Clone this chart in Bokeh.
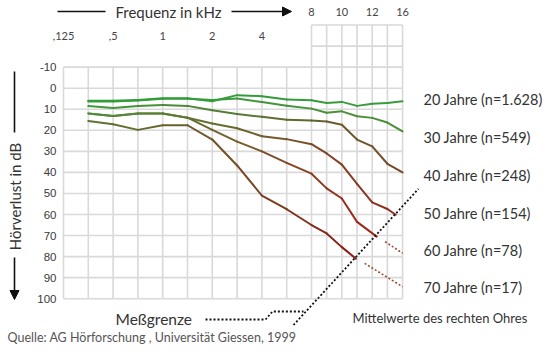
import math
import numpy as np
from bokeh.plotting import figure
from bokeh.models import Range1d, Arrow, NormalHead
from bokeh.core.properties import value
from bokeh.embed import file_html
from bokeh.resources import INLINE

# ---------------- data ----------------
grid_freqs = [0.125, 0.25, 0.5, 0.75, 1, 1.5, 2, 3, 4, 6, 8, 9, 10, 11, 12, 14, 16]
freq_labels_low = [",125", ",5", "1", "2", "4"]
freq_values_low = [0.125, 0.5, 1, 2, 4]
freq_labels_high = ["8", "10", "12", "16"]
freq_values_high = [8, 10, 12, 16]
db_ticks = [-10, 0, 10, 20, 30, 40, 50, 60, 70, 80, 90, 100]

freqs = [0.25, 0.5, 0.75, 1, 1.5, 2, 3, 4, 6, 8, 9, 10, 11, 12, 14, 16]
db_20 = [6.0, 6.0, 5.6, 4.8, 4.8, 6.2, 3.3, 3.8, 5.4, 5.7, 7.0, 6.5, 8.4, 7.4, 7.0, 6.2]
db_30 = [6.3, 6.3, 5.9, 5.0, 5.0, 5.6, 4.9, 6.6, 8.3, 9.7, 11.7, 11.0, 13.3, 14.1, 16.3, 20.5]
db_40 = [8.5, 9.4, 8.5, 8.0, 8.4, 10.5, 12.3, 13.6, 15.0, 15.4, 15.8, 17.4, 24.4, 27.6, 35.9, 40.0]
f_50 = [0.25, 0.5, 0.75, 1, 1.5, 2, 3, 4, 6, 8, 9, 10, 11, 12, 14, 15.1]
db_50 = [12.0, 13.2, 12.0, 12.0, 14.0, 16.8, 19.0, 22.8, 24.2, 26.6, 31.0, 36.3, 45.5, 54.2, 57.4, 60.1]
f_60 = [0.25, 0.5, 0.75, 1, 1.5, 2, 3, 4, 6, 8, 9, 10, 11, 12.6]
db_60 = [12.0, 13.2, 12.0, 12.0, 14.0, 19.8, 25.4, 30.0, 35.5, 40.6, 47.6, 52.4, 63.5, 70.5]
f_70 = [0.25, 0.5, 0.75, 1, 1.5, 2, 3, 4, 6, 8, 9, 10, 10.93]
db_70 = [15.6, 17.1, 19.8, 17.6, 17.6, 24.4, 36.7, 51.0, 57.5, 65.0, 69.0, 75.5, 81.0]
f_60_ext = [13.7, 16]
db_60_ext = [72.9, 78.4]
f_70_ext = [11.5, 16]
db_70_ext = [83.2, 94.3]
series_labels = ["20 Jahre (n=1.628)", "30 Jahre (n=549)", "40 Jahre (n=248)",
                 "50 Jahre (n=154)", "60 Jahre (n=78)", "70 Jahre (n=17)"]

# ---------------- scales / layout ----------------
# audiogram frequency axis: equal steps up to 8 kHz, narrower steps above
grid_pos = list(range(11)) + [10 + 0.612 * k for k in range(1, 7)]
X_END = grid_pos[-1]


def fx(f):
    return np.interp(np.asarray(f, dtype=float), grid_freqs, grid_pos).tolist()


X0, XS = 63.0, 24.8      # canvas px of x=0, px per unit
Y0, YS = 87.7, 2.105     # canvas px of 0 dB, px per dB


def sx(px):
    return (px - X0) / XS


def sy(py):
    return (py - Y0) / YS


W, H = 544, 344
p = figure(width=W, height=H, output_backend="svg", toolbar_location=None,
           x_range=Range1d(sx(0), sx(W)), y_range=Range1d(sy(H), sy(0)),
           x_axis_type=None, y_axis_type=None, min_border=0)
p.outline_line_color = None
p.background_fill_color = "white"
p.border_fill_color = "white"

# grid
gx0, gy0, gx1, gy1 = [], [], [], []
for pos in grid_pos:
    gx0.append(pos); gx1.append(pos)
    gy0.append(-30 if pos >= 10 else -10); gy1.append(100)
for d in db_ticks:
    gx0.append(0); gx1.append(X_END); gy0.append(d); gy1.append(d)
for d in (-30, -20):
    gx0.append(10); gx1.append(X_END); gy0.append(d); gy1.append(d)
p.segment(gx0, gy0, gx1, gy1, line_color="#d9d9d9", line_width=1.6)


def hex2rgb(h):
    h = h.lstrip("#")
    return [int(h[i:i + 2], 16) for i in (0, 2, 4)]


def lerp(c0, c1, t):
    a, b = hex2rgb(c0), hex2rgb(c1)
    return "#%02x%02x%02x" % tuple(int(round(a[i] + (b[i] - a[i]) * t)) for i in range(3))


series = [
    (f_70, db_70, "#5e7632", "#8e1a16"),
    (f_60, db_60, "#55883a", "#a02219"),
    (f_50, db_50, "#4f8e3a", "#922a1c"),
    (freqs, db_40, "#3f9a3c", "#7a4628"),
    (freqs, db_30, "#38a03c", "#4e8c38"),
    (freqs, db_20, "#2f9c3a", "#3a9c3c"),
]
for f, d, c0, c1 in series:
    xs_ = fx(f)
    xsegs, ysegs, cols = [], [], []
    for i in range(len(xs_) - 1):
        t = ((xs_[i] + xs_[i + 1]) / 2 - xs_[0]) / (xs_[-1] - xs_[0])
        xsegs.append([xs_[i], xs_[i + 1]])
        ysegs.append([d[i], d[i + 1]])
        cols.append(lerp(c0, c1, t ** 1.3))
    p.multi_line(xsegs, ysegs, line_color=cols, line_width=2.0, line_cap="round", line_join="round")

# extrapolated parts beyond the measuring limit
for f, d in ((f_60_ext, db_60_ext), (f_70_ext, db_70_ext)):
    p.line(fx(f), d, line_color="#9a4a36", line_width=1.6, line_dash="2 2")

# measuring limit (Meßgrenze)
p.line([sx(293), sx(418)], [112.5, 47.8], line_color="#111111", line_width=1.8, line_dash="2 2")
p.line([sx(205), sx(265), sx(272), sx(303)], [sy(319), sy(319), sy(311), sy(311)],
       line_color="#111111", line_width=1.8, line_dash="2 2")

# axis texts
p.text([sx(56)] * len(db_ticks), db_ticks, text=[str(t) for t in db_ticks],
       text_font=value("Liberation Sans"), text_font_size="11.5px", text_color="#3a3a3a",
       text_align="right", text_baseline="middle")
p.text(fx(freq_values_low), [sy(35)] * len(freq_values_low), text=freq_labels_low,
       text_font=value("Lato"), text_font_size="11px", text_color="#444444",
       text_align="center", text_baseline="middle")
p.text(fx(freq_values_high), [sy(11)] * len(freq_values_high), text=freq_labels_high,
       text_font=value("Lato"), text_font_size="11px", text_color="#444444",
       text_align="center", text_baseline="middle")

p.text([sx(168)], [sy(11)], text=["Frequenz in kHz"], text_font=value("Lato"),
       text_font_size="15px", text_color="#333333", text_align="center", text_baseline="middle")
p.segment([sx(57)], [sy(11)], [sx(105)], [sy(11)], line_color="#111111", line_width=1.6)
p.add_layout(Arrow(end=NormalHead(size=9, fill_color="#111111", line_color="#111111"),
                   x_start=sx(231), y_start=sy(11), x_end=sx(291), y_end=sy(11),
                   line_color="#111111", line_width=1.6))

p.text([sx(14)], [sy(196)], text=["Hörverlust in dB"], text_font=value("Lato"),
       text_font_size="15px", text_color="#333333", angle=math.pi / 2,
       text_align="center", text_baseline="middle")
p.segment([sx(14)], [sy(71)], [sx(14)], [sy(132)], line_color="#111111", line_width=1.6)
p.add_layout(Arrow(end=NormalHead(size=9, fill_color="#111111", line_color="#111111"),
                   x_start=sx(14), y_start=sy(257), x_end=sx(14), y_end=sy(299),
                   line_color="#111111", line_width=1.6))

label_y = [99.3, 137.3, 175.0, 212.7, 250.0, 286.7]
p.text([sx(423)] * 6, [sy(v) for v in label_y], text=series_labels, text_font=value("Lato"),
       text_font_size="14.5px", text_color="#333333", text_align="left", text_baseline="middle")
p.text([sx(115)], [sy(318)], text=["Meßgrenze"], text_font=value("Lato"),
       text_font_size="15.5px", text_color="#333333", text_align="left", text_baseline="middle")
p.text([sx(352)], [sy(317)], text=["Mittelwerte des rechten Ohres"], text_font=value("Lato"),
       text_font_size="13px", text_color="#333333", text_align="left", text_baseline="middle")
p.text([sx(7)], [sy(337)], text=["Quelle: AG Hörforschung , Universität Giessen, 1999"],
       text_font=value("Lato"), text_font_size="12.5px", text_color="#555555",
       text_align="left", text_baseline="middle")

open("out.html", "w").write(file_html(p, INLINE))
